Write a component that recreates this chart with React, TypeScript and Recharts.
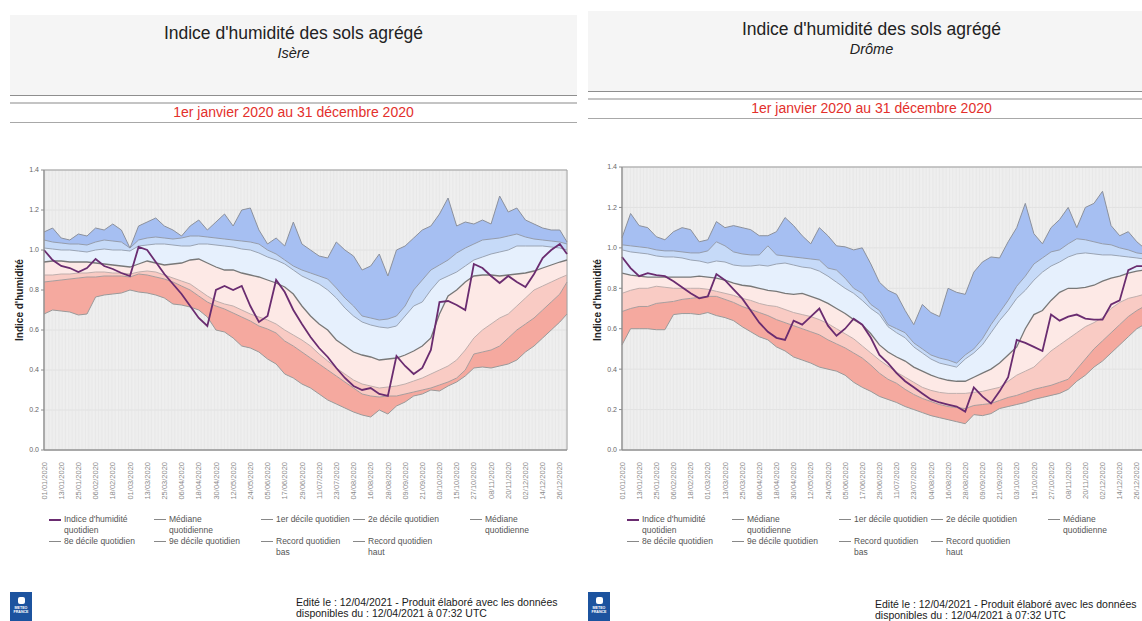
import React from "react";
import {
  ComposedChart,
  Area,
  Line,
  XAxis,
  YAxis,
  CartesianGrid,
  ReferenceArea,
} from "recharts";

// sample days (day of year 2020, 0 = 01/01)
const days = [
  0, 6, 12, 18, 24, 30, 36, 42, 48, 54,
  60, 66, 72, 78, 84, 90, 96, 102, 108, 114,
  120, 126, 132, 138, 144, 150, 156, 162, 168, 174,
  180, 186, 192, 198, 204, 210, 216, 222, 228, 234,
  240, 246, 252, 258, 264, 270, 276, 282, 288, 294,
  300, 306, 312, 318, 324, 330, 336, 342, 348, 354,
  360, 365,
];

const tickDays = [
  0, 12, 24, 36, 48, 60, 72, 84, 96, 108, 120, 132, 144, 156, 168, 180,
  192, 204, 216, 228, 240, 252, 264, 276, 288, 300, 312, 324, 336, 348, 360,
];
const tickLabels = [
  "01/01/2020", "13/01/2020", "25/01/2020", "06/02/2020", "18/02/2020",
  "01/03/2020", "13/03/2020", "25/03/2020", "06/04/2020", "18/04/2020",
  "30/04/2020", "12/05/2020", "24/05/2020", "05/06/2020", "17/06/2020",
  "29/06/2020", "11/07/2020", "23/07/2020", "04/08/2020", "16/08/2020",
  "28/08/2020", "09/09/2020", "21/09/2020", "03/10/2020", "15/10/2020",
  "27/10/2020", "08/11/2020", "20/11/2020", "02/12/2020", "14/12/2020",
  "26/12/2020",
];
const yTicks = [0, 0.2, 0.4, 0.6, 0.8, 1.0, 1.2, 1.4];
const gridDays = Array.from({ length: 366 }, (_, i) => i);

// ---- Isère ----
const isereIndex = [
  1.0, 0.95, 0.92, 0.91, 0.89, 0.91, 0.955, 0.92, 0.905, 0.885,
  0.87, 1.015, 1.0, 0.94, 0.88, 0.83, 0.78, 0.72, 0.66, 0.62,
  0.8, 0.82, 0.8, 0.82, 0.72, 0.64, 0.67, 0.85, 0.79, 0.7,
  0.63, 0.565, 0.51, 0.465, 0.41, 0.36, 0.32, 0.3, 0.31, 0.28,
  0.27, 0.47, 0.42, 0.38, 0.41, 0.5, 0.74, 0.745, 0.725, 0.7,
  0.93, 0.91, 0.87, 0.835, 0.87, 0.84, 0.815, 0.88, 0.96, 1.0,
  1.03, 0.98,
];
const isereRecHigh = [
  1.09, 1.11, 1.06, 1.05, 1.08, 1.07, 1.11, 1.1, 1.13, 1.1,
  1.01, 1.12, 1.14, 1.16, 1.12, 1.1, 1.07, 1.12, 1.15, 1.1,
  1.14, 1.18, 1.12, 1.2, 1.21, 1.1, 1.03, 1.06, 1.02, 1.14,
  1.03, 1.0, 0.97, 0.96, 1.04, 1.0, 0.97, 0.9, 0.92, 0.98,
  0.87, 1.0, 1.02, 1.06, 1.1, 1.12, 1.18, 1.26, 1.12, 1.14,
  1.13, 1.15, 1.13, 1.27, 1.19, 1.21, 1.15, 1.13, 1.11, 1.1,
  1.1, 1.04,
];
const isereD9 = [
  1.05, 1.04, 1.035, 1.03, 1.03, 1.025, 1.04, 1.05, 1.045, 1.04,
  1.01, 1.05, 1.06, 1.065, 1.06, 1.055, 1.06, 1.07, 1.07, 1.065,
  1.06, 1.055, 1.05, 1.045, 1.04, 1.03, 1.0, 0.98, 0.95, 0.92,
  0.9, 0.885, 0.87, 0.855, 0.81, 0.76, 0.72, 0.67, 0.66, 0.65,
  0.655, 0.67, 0.72, 0.8, 0.85, 0.9, 0.925, 0.95, 0.985, 1.01,
  1.03, 1.05, 1.055, 1.06, 1.07, 1.08, 1.065, 1.055, 1.05, 1.045,
  1.04, 1.03,
];
const isereD8 = [
  1.01, 1.005, 1.0, 1.0, 0.995, 0.99, 1.0, 1.005, 1.0, 1.0,
  0.995, 1.02, 1.025, 1.03, 1.03, 1.025, 1.02, 1.02, 1.03, 1.03,
  1.025, 1.02, 1.015, 1.005, 1.0, 0.985, 0.965, 0.95, 0.93, 0.9,
  0.87, 0.85, 0.83, 0.8, 0.76, 0.71, 0.67, 0.64, 0.625, 0.615,
  0.61, 0.62, 0.67, 0.72, 0.74, 0.8, 0.85, 0.87, 0.89, 0.92,
  0.95, 0.965, 0.98, 0.99, 1.0, 1.02, 1.02, 1.02, 1.02, 1.015,
  1.01, 1.0,
];
const isereMedian = [
  0.94, 0.945, 0.945, 0.94, 0.94, 0.94, 0.935, 0.93, 0.925, 0.92,
  0.915, 0.93, 0.945, 0.935, 0.925, 0.93, 0.935, 0.95, 0.955, 0.935,
  0.915, 0.9, 0.9, 0.885, 0.875, 0.865, 0.85, 0.835, 0.815, 0.78,
  0.72, 0.67, 0.63, 0.6, 0.55, 0.52, 0.49, 0.475, 0.465, 0.45,
  0.455, 0.46, 0.475, 0.495, 0.52, 0.56, 0.68, 0.77, 0.8, 0.84,
  0.87, 0.875, 0.875, 0.87, 0.875, 0.88, 0.885, 0.895, 0.91, 0.925,
  0.94, 0.95,
];
const isereD2 = [
  0.875, 0.875, 0.88, 0.88, 0.885, 0.885, 0.89, 0.89, 0.885, 0.885,
  0.88, 0.89, 0.895, 0.89, 0.875, 0.86, 0.845, 0.83, 0.8, 0.77,
  0.745, 0.73, 0.72, 0.7, 0.68, 0.665, 0.65, 0.63, 0.6, 0.575,
  0.55, 0.52, 0.48, 0.445, 0.41, 0.38, 0.35, 0.33, 0.32, 0.31,
  0.315, 0.32, 0.33, 0.345, 0.36, 0.38, 0.4, 0.42, 0.45, 0.5,
  0.56, 0.6, 0.63, 0.66, 0.68, 0.72, 0.76, 0.8, 0.82, 0.84,
  0.86, 0.875,
];
const isereD1 = [
  0.84, 0.845, 0.85, 0.855, 0.86, 0.865, 0.865, 0.87, 0.87, 0.87,
  0.865, 0.88, 0.875, 0.865, 0.855, 0.84, 0.82, 0.8, 0.77, 0.74,
  0.72, 0.705, 0.685, 0.665, 0.645, 0.62, 0.605, 0.585, 0.545, 0.52,
  0.49, 0.46, 0.43, 0.4, 0.37, 0.34, 0.31, 0.28, 0.27, 0.265,
  0.27, 0.27, 0.28, 0.29, 0.3, 0.31, 0.325, 0.34, 0.36, 0.4,
  0.48, 0.49, 0.5, 0.52, 0.56, 0.6, 0.63, 0.66, 0.7, 0.74,
  0.78, 0.84,
];
const isereRecLow = [
  0.68, 0.7, 0.695, 0.69, 0.675, 0.68, 0.765, 0.775, 0.78, 0.785,
  0.8, 0.79, 0.785, 0.775, 0.76, 0.73, 0.725, 0.715, 0.7, 0.665,
  0.6, 0.59, 0.56, 0.52, 0.51, 0.49, 0.455, 0.43, 0.38, 0.36,
  0.33, 0.31, 0.28, 0.25, 0.23, 0.21, 0.19, 0.175, 0.165, 0.2,
  0.18, 0.22, 0.24, 0.27, 0.28, 0.3, 0.295, 0.32, 0.34, 0.37,
  0.41, 0.415, 0.41, 0.42, 0.43, 0.45, 0.49, 0.52, 0.56, 0.6,
  0.64, 0.68,
];

// ---- Drôme ----
const dromeIndex = [
  0.955, 0.9, 0.86, 0.875, 0.865, 0.86, 0.835, 0.805, 0.775, 0.75,
  0.76, 0.87, 0.84, 0.795, 0.75, 0.69, 0.63, 0.585, 0.555, 0.545,
  0.64, 0.62, 0.66, 0.7, 0.615, 0.565, 0.6, 0.65, 0.62, 0.555,
  0.47, 0.43, 0.38, 0.34, 0.31, 0.28, 0.25, 0.235, 0.225, 0.215,
  0.19, 0.31, 0.265, 0.23, 0.29, 0.36, 0.545, 0.53, 0.51, 0.49,
  0.67, 0.64, 0.66, 0.67, 0.65, 0.645, 0.645, 0.72, 0.74, 0.89,
  0.91, 0.91,
];
const dromeRecHigh = [
  1.05, 1.17, 1.11, 1.1, 1.055, 1.04, 1.08, 1.1, 1.09, 1.03,
  1.04, 1.13, 1.1, 1.11, 1.1, 1.09, 1.06, 1.06, 1.08, 1.15,
  1.11, 1.06, 1.02, 1.1, 1.06, 1.01, 1.005, 0.99, 1.0, 0.92,
  0.83, 0.79, 0.77, 0.69, 0.62, 0.72, 0.68, 0.66, 0.8, 0.78,
  0.77, 0.88, 0.93, 0.955, 0.95, 1.03, 1.1, 1.22, 1.07, 1.02,
  1.1, 1.14, 1.2, 1.1, 1.2, 1.22, 1.28, 1.11, 1.06, 1.08,
  1.03, 1.0,
];
const dromeD9 = [
  1.015, 1.01, 1.005, 1.0, 0.99, 0.985, 0.985, 0.98, 0.975, 0.975,
  0.985, 1.03, 1.01, 0.98, 0.97, 0.965, 0.965, 1.01, 0.965, 0.96,
  0.955, 0.95, 0.945, 0.94, 0.9, 0.89, 0.85, 0.8, 0.775, 0.72,
  0.69, 0.62, 0.6, 0.58, 0.53, 0.5, 0.47, 0.455, 0.445, 0.43,
  0.47, 0.5, 0.55, 0.62, 0.68, 0.74, 0.81, 0.86, 0.92, 0.95,
  0.98, 0.99, 1.02, 1.045, 1.04, 1.03, 1.02, 1.015, 1.0, 0.99,
  0.975, 0.97,
];
const dromeD8 = [
  0.99, 0.98, 0.975, 0.97, 0.96, 0.955, 0.955, 0.95, 0.94, 0.935,
  0.925, 0.935, 0.93, 0.915, 0.91, 0.91, 0.915, 0.91, 0.92, 0.925,
  0.915, 0.905, 0.9, 0.885, 0.86, 0.83, 0.8, 0.775, 0.74, 0.7,
  0.67, 0.61, 0.58, 0.555, 0.51, 0.48, 0.45, 0.43, 0.42, 0.41,
  0.45, 0.48, 0.52, 0.58, 0.64, 0.69, 0.75, 0.79, 0.84, 0.88,
  0.91, 0.93, 0.955, 0.97, 0.975, 0.97, 0.965, 0.965, 0.96, 0.955,
  0.95, 0.945,
];
const dromeMedian = [
  0.875, 0.865, 0.86, 0.855, 0.855, 0.855, 0.855, 0.855, 0.855, 0.86,
  0.855, 0.85, 0.84, 0.825, 0.815, 0.81, 0.8, 0.79, 0.785, 0.775,
  0.77, 0.775, 0.76, 0.745, 0.725, 0.7, 0.675, 0.645, 0.62, 0.575,
  0.52, 0.485, 0.46, 0.44, 0.41, 0.39, 0.37, 0.355, 0.345, 0.34,
  0.34, 0.36, 0.38, 0.4, 0.43, 0.47, 0.51, 0.6, 0.67, 0.69,
  0.74, 0.78, 0.8, 0.8, 0.805, 0.815, 0.835, 0.85, 0.86, 0.875,
  0.885, 0.89,
];
const dromeD2 = [
  0.775, 0.79, 0.8, 0.8, 0.81, 0.805, 0.8, 0.8, 0.8, 0.8,
  0.795, 0.785, 0.775, 0.765, 0.75, 0.74, 0.725, 0.715, 0.71, 0.695,
  0.68, 0.67, 0.66, 0.645, 0.625, 0.6, 0.575, 0.55, 0.515, 0.48,
  0.445, 0.415, 0.385, 0.36, 0.335, 0.31, 0.295, 0.285, 0.28, 0.28,
  0.28, 0.285, 0.29, 0.3, 0.31, 0.34, 0.37, 0.39, 0.41, 0.45,
  0.49, 0.52, 0.55, 0.58, 0.61, 0.63, 0.655, 0.7, 0.73, 0.75,
  0.76, 0.77,
];
const dromeD1 = [
  0.685, 0.7, 0.71, 0.71, 0.725, 0.73, 0.735, 0.745, 0.75, 0.755,
  0.76, 0.76, 0.745, 0.73, 0.71, 0.695, 0.68, 0.665, 0.645, 0.63,
  0.615, 0.6, 0.585, 0.57, 0.545, 0.525, 0.505, 0.48, 0.455, 0.42,
  0.38, 0.35, 0.33, 0.3, 0.275, 0.255, 0.24, 0.225, 0.215, 0.21,
  0.205, 0.22, 0.225, 0.23, 0.245, 0.26, 0.27, 0.285, 0.3, 0.31,
  0.32, 0.335, 0.35, 0.4, 0.45, 0.5, 0.54, 0.58, 0.62, 0.66,
  0.69, 0.71,
];
const dromeRecLow = [
  0.52, 0.6, 0.6, 0.6, 0.595, 0.595, 0.67, 0.675, 0.675, 0.67,
  0.68, 0.665, 0.655, 0.64, 0.61, 0.585, 0.56, 0.545, 0.51, 0.49,
  0.46, 0.445, 0.43, 0.41, 0.4, 0.39, 0.37, 0.335, 0.31, 0.29,
  0.265, 0.25, 0.235, 0.215, 0.2, 0.185, 0.17, 0.16, 0.15, 0.14,
  0.13, 0.175, 0.17, 0.18, 0.205, 0.215, 0.225, 0.235, 0.25, 0.26,
  0.27, 0.28, 0.3, 0.34, 0.37, 0.41, 0.44, 0.48, 0.52, 0.56,
  0.6, 0.62,
];

type Row = {
  day: number;
  idx: number;
  rl: number;
  d1: number;
  d2: number;
  med: number;
  d8: number;
  d9: number;
  rh: number;
};

const buildRows = (
  idx: number[], rl: number[], d1: number[], d2: number[],
  med: number[], d8: number[], d9: number[], rh: number[]
): Row[] =>
  days.map((day, i) => ({
    day,
    idx: idx[i],
    rl: rl[i],
    d1: d1[i],
    d2: d2[i],
    med: med[i],
    d8: d8[i],
    d9: d9[i],
    rh: rh[i],
  }));

const isereRows = buildRows(isereIndex, isereRecLow, isereD1, isereD2, isereMedian, isereD8, isereD9, isereRecHigh);
const dromeRows = buildRows(dromeIndex, dromeRecLow, dromeD1, dromeD2, dromeMedian, dromeD8, dromeD9, dromeRecHigh);

const FONT = "'Liberation Sans', Arial, sans-serif";
const PURPLE = "#6a2c70";

const DateTick = (props: any) => {
  const { x, y, payload } = props;
  const label = tickLabels[tickDays.indexOf(payload.value)] ?? "";
  return (
    <g transform={`translate(${x},${y})`}>
      <text
        transform="rotate(-90)"
        x={-4}
        y={0}
        dy="0.35em"
        textAnchor="end"
        fontSize={7.5}
        fill="#8a8a8a"
        fontFamily={FONT}
      >
        {label}
      </text>
    </g>
  );
};

// one faint vertical line per day, spread over the plot width
const dayLines = (props: any) => {
  const o = props.offset;
  return gridDays.map((d) => o.left + (d * o.width) / 365);
};

const HumidityChart = ({ rows, width, height }: { rows: Row[]; width: number; height: number }) => (
  <ComposedChart
    width={width}
    height={height}
    data={rows}
    margin={{ top: 10, right: 13, bottom: 0, left: 0 }}
  >
    <CartesianGrid vertical={false} stroke="#e0e0e0" fill="#f7f7f7" />
    <CartesianGrid
      horizontal={false}
      verticalCoordinatesGenerator={dayLines}
      stroke="#e3e3e3"
      strokeWidth={0.8}
    />
    <XAxis
      dataKey="day"
      type="number"
      domain={[0, 365]}
      ticks={tickDays}
      interval={0}
      tick={<DateTick />}
      tickLine={false}
      height={50}
      stroke="#8c8c8c"
    />
    <YAxis
      domain={[0, 1.4]}
      ticks={yTicks}
      width={44}
      tickSize={3}
      tickMargin={2}
      tickFormatter={(v: number) => v.toFixed(1)}
      tick={{ fontSize: 7, fill: "#666", fontFamily: FONT }}
      stroke="#8c8c8c"
    />
    <Area type="linear" dataKey={(r: Row) => [r.rl, r.d1]} fill="#f5a99f" fillOpacity={1} stroke="none" isAnimationActive={false} />
    <Area type="linear" dataKey={(r: Row) => [r.d1, r.d2]} fill="#f9cbc4" fillOpacity={1} stroke="none" isAnimationActive={false} />
    <Area type="linear" dataKey={(r: Row) => [r.d2, r.med]} fill="#fde9e6" fillOpacity={1} stroke="none" isAnimationActive={false} />
    <Area type="linear" dataKey={(r: Row) => [r.med, r.d8]} fill="#e6f0fd" fillOpacity={1} stroke="none" isAnimationActive={false} />
    <Area type="linear" dataKey={(r: Row) => [r.d8, r.d9]} fill="#c6daf8" fillOpacity={1} stroke="none" isAnimationActive={false} />
    <Area type="linear" dataKey={(r: Row) => [r.d9, r.rh]} fill="#a6bff2" fillOpacity={1} stroke="none" isAnimationActive={false} />
    <Line type="linear" dataKey="rl" stroke="#9a9a9a" strokeWidth={1} dot={false} isAnimationActive={false} />
    <Line type="linear" dataKey="d1" stroke="#a89c9c" strokeWidth={1} dot={false} isAnimationActive={false} />
    <Line type="linear" dataKey="d2" stroke="#c0aeac" strokeWidth={1} dot={false} isAnimationActive={false} />
    <Line type="linear" dataKey="med" stroke="#787878" strokeWidth={1.3} dot={false} isAnimationActive={false} />
    <Line type="linear" dataKey="d8" stroke="#9aa4b4" strokeWidth={1} dot={false} isAnimationActive={false} />
    <Line type="linear" dataKey="d9" stroke="#949cac" strokeWidth={1} dot={false} isAnimationActive={false} />
    <Line type="linear" dataKey="rh" stroke="#8c919c" strokeWidth={1} dot={false} isAnimationActive={false} />
    <Line type="linear" dataKey="idx" stroke={PURPLE} strokeWidth={1.8} dot={false} isAnimationActive={false} />
    <ReferenceArea x1={0} x2={365} y1={0} y2={1.4} fill="none" stroke="#a0a0a0" strokeWidth={1} />
  </ComposedChart>
);

const legendRow1 = [
  { lines: ["Indice d'humidité", "quotidien"], color: PURPLE },
  { lines: ["Médiane", "quotidienne"], color: "#888" },
  { lines: ["1er décile quotidien"], color: "#888" },
  { lines: ["2e décile quotidien"], color: "#888" },
  { lines: ["Médiane", "quotidienne"], color: "#888" },
];
const legendRow2 = [
  { lines: ["8e décile quotidien"], color: "#888" },
  { lines: ["9e décile quotidien"], color: "#888" },
  { lines: ["Record quotidien", "bas"], color: "#888" },
  { lines: ["Record quotidien", "haut"], color: "#888" },
];
const legendCols = [5, 110, 217, 309, 426];

const LegendItem = ({ left, top, lines, color }: { left: number; top: number; lines: string[]; color: string }) => (
  <div style={{ position: "absolute", left, top, fontSize: 8.5, lineHeight: "11px", color: "#555", whiteSpace: "nowrap" }}>
    <div
      style={{
        position: "absolute",
        left: 0,
        top: 5,
        width: 12,
        height: color === PURPLE ? 2 : 1,
        background: color,
      }}
    />
    <div style={{ marginLeft: 15 }}>
      {lines.map((l, i) => (
        <div key={i}>{l}</div>
      ))}
    </div>
  </div>
);

const Logo = ({ left, top }: { left: number; top: number }) => (
  <div
    style={{
      position: "absolute",
      left,
      top,
      width: 22,
      height: 29,
      background: "#1c539f",
      color: "#fff",
      fontSize: 3.6,
      fontWeight: "bold",
      textAlign: "center",
      lineHeight: "4px",
    }}
  >
    <div style={{ margin: "5px auto 2px", width: 7, height: 7, borderRadius: 2, background: "#fff" }} />
    <div>METEO</div>
    <div>FRANCE</div>
  </div>
);

type PanelProps = {
  name: string;
  rows: Row[];
  x: number; // left of header box
  headerDy: number;
  chartLeft: number;
  chartTop: number;
  chartWidth: number;
  chartHeight: number;
  plotLeft: number;
  footerLeft: number;
  footerTop: number;
};

const Panel = (p: PanelProps) => {
  const w = 567;
  const h = p.headerDy;
  return (
    <>
      <div
        style={{
          position: "absolute",
          left: p.x,
          top: 15 + h,
          width: w,
          height: 80,
          background: "#f5f5f5",
          borderBottom: "1px solid #8e8e8e",
        }}
      />
      <div style={{ position: "absolute", left: p.x, top: 23 + h, width: w, textAlign: "center", fontSize: 17.5, lineHeight: "20px", color: "#222" }}>
        Indice d'humidité des sols agrégé
      </div>
      <div style={{ position: "absolute", left: p.x, top: 45 + h, width: w, textAlign: "center", fontSize: 14.5, lineHeight: "17px", fontStyle: "italic", color: "#222" }}>
        {p.name}
      </div>
      <div style={{ position: "absolute", left: p.x, top: 102 + h, width: w, height: 2, background: "#c4c4c4" }} />
      <div style={{ position: "absolute", left: p.x, top: 104 + h, width: w, textAlign: "center", fontSize: 14, lineHeight: "16px", color: "#e3302c" }}>
        1er janvier 2020 au 31 décembre 2020
      </div>
      <div style={{ position: "absolute", left: p.x, top: 122 + h, width: w, height: 1, background: "#a8a8a8" }} />

      <div
        style={{
          position: "absolute",
          left: p.plotLeft - 24,
          top: 300 - 6,
          width: 0,
          height: 0,
        }}
      >
        <div
          style={{
            position: "absolute",
            left: -60,
            top: 0,
            width: 120,
            textAlign: "center",
            fontSize: 10,
            fontWeight: "bold",
            color: "#222",
            lineHeight: "12px",
            transform: "rotate(-90deg)",
            whiteSpace: "nowrap",
          }}
        >
          Indice d'humidité
        </div>
      </div>

      <div style={{ position: "absolute", left: p.chartLeft, top: p.chartTop }}>
        <HumidityChart rows={p.rows} width={p.chartWidth} height={p.chartHeight} />
      </div>

      {legendRow1.map((it, i) => (
        <LegendItem key={"a" + i} left={p.plotLeft + legendCols[i]} top={514} lines={it.lines} color={it.color} />
      ))}
      {legendRow2.map((it, i) => (
        <LegendItem key={"b" + i} left={p.plotLeft + legendCols[i]} top={536} lines={it.lines} color={it.color} />
      ))}

      <Logo left={p.x} top={592} />
      <div style={{ position: "absolute", left: p.footerLeft, top: p.footerTop, fontSize: 10.5, lineHeight: "11px", color: "#1a1a1a", whiteSpace: "nowrap" }}>
        <div>Edité le : 12/04/2021 - Produit élaboré avec les données</div>
        <div>disponibles du : 12/04/2021 à 07:32 UTC</div>
      </div>
    </>
  );
};

export default function App() {
  return (
    <div
      style={{
        position: "absolute",
        left: 0,
        top: 0,
        width: 1142,
        height: 621,
        overflow: "hidden",
        background: "#fff",
        fontFamily: FONT,
      }}
    >
      <Panel
        name="Isère"
        rows={isereRows}
        x={10}
        headerDy={0}
        chartLeft={0}
        chartTop={160}
        chartWidth={580}
        chartHeight={340}
        plotLeft={44}
        footerLeft={296}
        footerTop={597}
      />
      <Panel
        name="Drôme"
        rows={dromeRows}
        x={588}
        headerDy={-4}
        chartLeft={578}
        chartTop={157}
        chartWidth={579}
        chartHeight={343}
        plotLeft={622}
        footerLeft={875}
        footerTop={599}
      />
    </div>
  );
}
